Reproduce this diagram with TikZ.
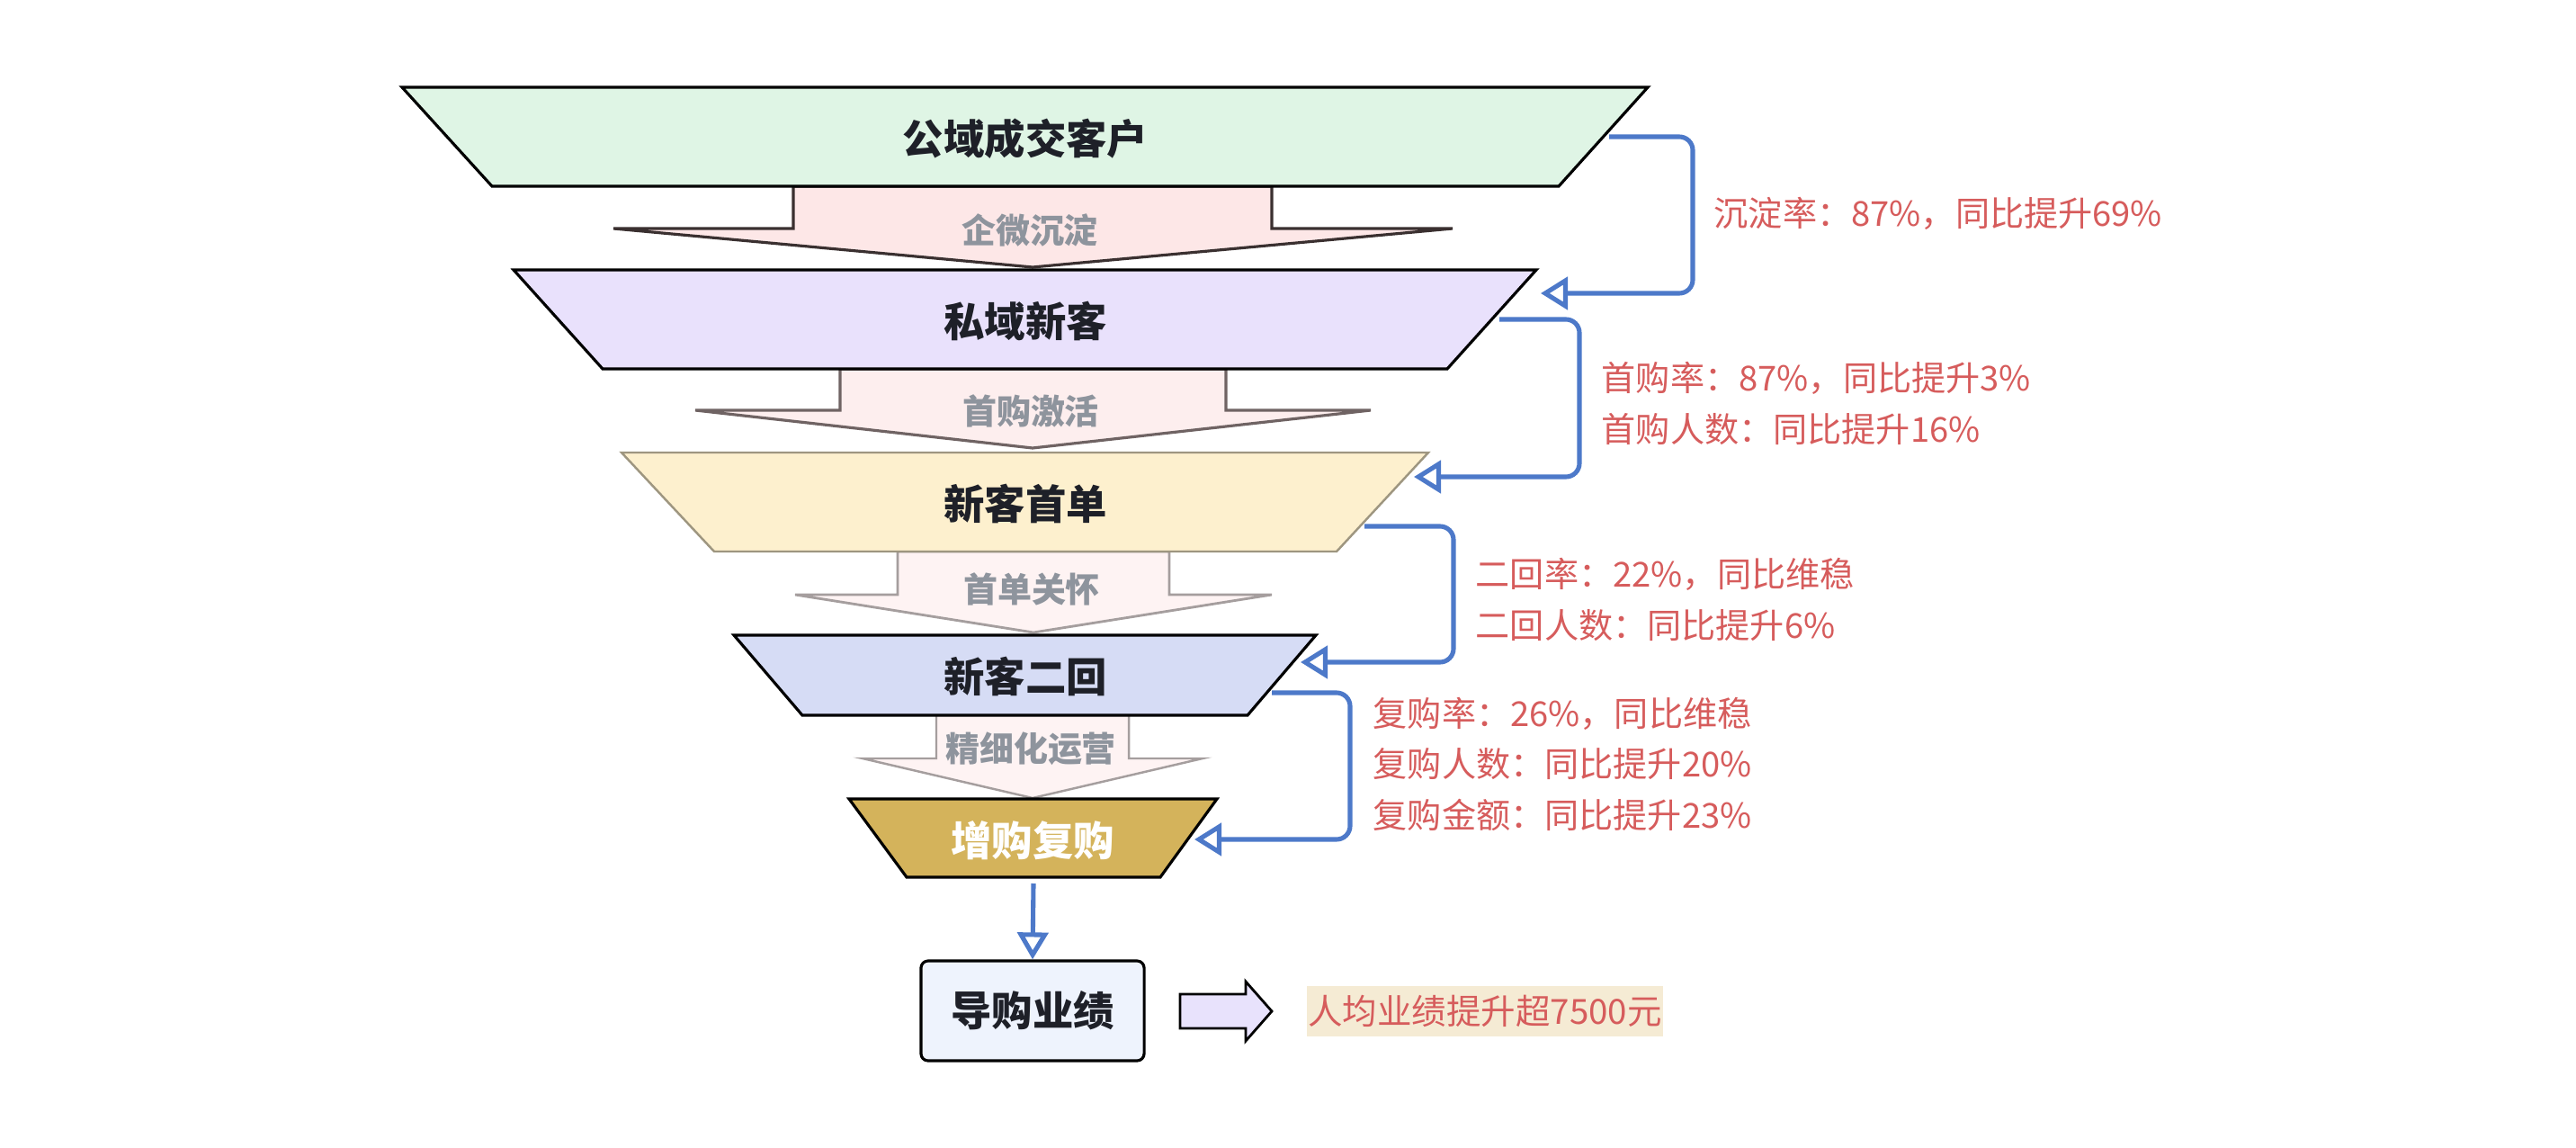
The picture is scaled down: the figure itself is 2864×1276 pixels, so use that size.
\documentclass[tikz,border=0pt]{standalone}
\usepackage{fontspec}
\setmainfont{Noto Sans CJK SC}
\usetikzlibrary{arrows.meta}
\definecolor{tone}{HTML}{DFF5E5}
\definecolor{ttwo}{HTML}{E9E1FC}
\definecolor{tthree}{HTML}{FDF0CE}
\definecolor{tthreeb}{HTML}{9E9680}
\definecolor{tfour}{HTML}{D6DCF5}
\definecolor{tfive}{HTML}{D4B35B}
\definecolor{aone}{HTML}{FDE7E7}
\definecolor{aoneb}{HTML}{3A3030}
\definecolor{atwo}{HTML}{FDEEEE}
\definecolor{atwob}{HTML}{6F6363}
\definecolor{athree}{HTML}{FEF3F3}
\definecolor{athreeb}{HTML}{A59E9E}
\definecolor{conblue}{HTML}{4D79C9}
\definecolor{redtxt}{HTML}{D65C5C}
\definecolor{darktxt}{HTML}{1E2028}
\definecolor{greytxt}{HTML}{8E949D}
\definecolor{boxfill}{HTML}{EEF3FD}
\definecolor{bigarrow}{HTML}{E8E2FC}
\definecolor{notebg}{HTML}{F5EBD4}
\begin{document}
\begin{tikzpicture}[x=0.01cm,y=-0.01cm,
  trapline/.style={line width=0.9pt,draw=black,line join=miter},
  title/.style={font=\fontsize{12.9pt}{14pt}\selectfont\bfseries,text=darktxt,inner sep=0pt},
  flowlabel/.style={font=\fontsize{10.8pt}{12pt}\selectfont\bfseries,text=greytxt,inner sep=0pt},
  note/.style={font=\fontsize{10.85pt}{12pt}\selectfont,text=redtxt,inner sep=0pt,anchor=west},
  con/.style={draw=conblue,line width=1.45pt,rounded corners=0.15cm,
    -{Triangle[open,length=0.3cm,width=0.36cm,line width=1.45pt]}},
]
\useasboundingbox (0,0) rectangle (2864,1276);

% flow arrows (drawn first, under trapezoids)
\draw[fill=aone,draw=aoneb,line width=0.9pt]
  (882,207) -- (1414,207) -- (1414,254) -- (1615,254) -- (1148,297) -- (682,254) -- (882,254) -- cycle;
\draw[fill=atwo,draw=atwob,line width=0.9pt]
  (934,410) -- (1363,410) -- (1363,456) -- (1524,456) -- (1148,498) -- (773,456) -- (934,456) -- cycle;
\draw[fill=athree,draw=athreeb,line width=0.8pt]
  (998,613) -- (1300,613) -- (1300,661) -- (1414,661) -- (1149,703) -- (884,661) -- (998,661) -- cycle;
\draw[fill=athree,draw=athreeb,line width=0.7pt]
  (1041,795) -- (1255,795) -- (1255,843) -- (1337,843) -- (1148,887) -- (959,843) -- (1041,843) -- cycle;

\node[flowlabel] (l1) at (1145,256) {企微沉淀};
\node[flowlabel] (l2) at (1146,457) {首购激活};
\node[flowlabel] (l3) at (1147,655) {首单关怀};
\node[flowlabel] (l4) at (1146,832) {精细化运营};

% trapezoids
\draw[trapline,fill=tone] (447,97) -- (1832,97) -- (1733,207) -- (547,207) -- cycle;
\draw[trapline,fill=ttwo] (571,300) -- (1708,300) -- (1609,410) -- (670,410) -- cycle;
\draw[line width=0.7pt,draw=tthreeb,fill=tthree] (691,503) -- (1588,503) -- (1486,613) -- (794,613) -- cycle;
\draw[trapline,fill=tfour] (816,706) -- (1463,706) -- (1387,795) -- (892,795) -- cycle;
\draw[trapline,fill=tfive] (944,888) -- (1353,888) -- (1290,975) -- (1008,975) -- cycle;

\node[title] (t1) at (1140,154) {公域成交客户};
\node[title] (t2) at (1140,357) {私域新客};
\node[title] (t3) at (1140,560) {新客首单};
\node[title] (t4) at (1140,752) {新客二回};
\node[title,text=white] (t5) at (1148,934) {增购复购};

% connector end points
\coordinate (s1) at (1789,152); \coordinate (e1) at (1713,326);
\coordinate (s2) at (1667,355); \coordinate (e2) at (1572,530);
\coordinate (s3) at (1517,585); \coordinate (e3) at (1446,736);
\coordinate (s4) at (1414,770); \coordinate (e4) at (1328,933);

\draw[con] (s1) -- (1882,152) -- (1882,326) -- (e1);
\draw[con] (s2) -- (1756,355) -- (1756,530) -- (e2);
\draw[con] (s3) -- (1616,585) -- (1616,736) -- (e3);
\draw[con] (s4) -- (1501,770) -- (1501,933) -- (e4);

% notes
\node[note] (n1) at (1905,237) {沉淀率：87\%，同比提升69\%};
\node[note] (n2) at (1780,420) {首购率：87\%，同比提升3\%};
\node[note] (n3) at (1780,477) {首购人数：同比提升16\%};
\node[note] (n4) at (1640,638) {二回率：22\%，同比维稳};
\node[note] (n5) at (1640,695) {二回人数：同比提升6\%};
\node[note] (n6) at (1526,793) {复购率：26\%，同比维稳};
\node[note] (n7) at (1526,849) {复购人数：同比提升20\%};
\node[note] (n8) at (1526,906) {复购金额：同比提升23\%};

% result box
\node[draw=black,line width=0.9pt,fill=boxfill,rounded corners=0.08cm,
  minimum width=2.48cm,minimum height=1.11cm,inner sep=0pt,
  font=\fontsize{12.9pt}{14pt}\selectfont\bfseries,text=darktxt] (res) at (1148,1123.5) {导购业绩};
\coordinate (dstart) at (1149,982);
\draw[draw=conblue,line width=1.45pt,
  -{Triangle[open,length=0.3cm,width=0.34cm,line width=1.45pt]}] (dstart) -- (res.north);

% block arrow
\draw[draw=black,line width=0.8pt,fill=bigarrow,line join=miter]
  (1312,1105) -- (1385,1105) -- (1385,1091) -- (1414,1124) -- (1385,1157) -- (1385,1143) -- (1312,1143) -- cycle;

\node[fill=notebg,minimum width=3.96cm,minimum height=0.56cm,inner sep=0pt,
  font=\fontsize{10.95pt}{12pt}\selectfont,text=redtxt] (gain) at (1651,1124) {人均业绩提升超7500元};
\end{tikzpicture}
\end{document}
